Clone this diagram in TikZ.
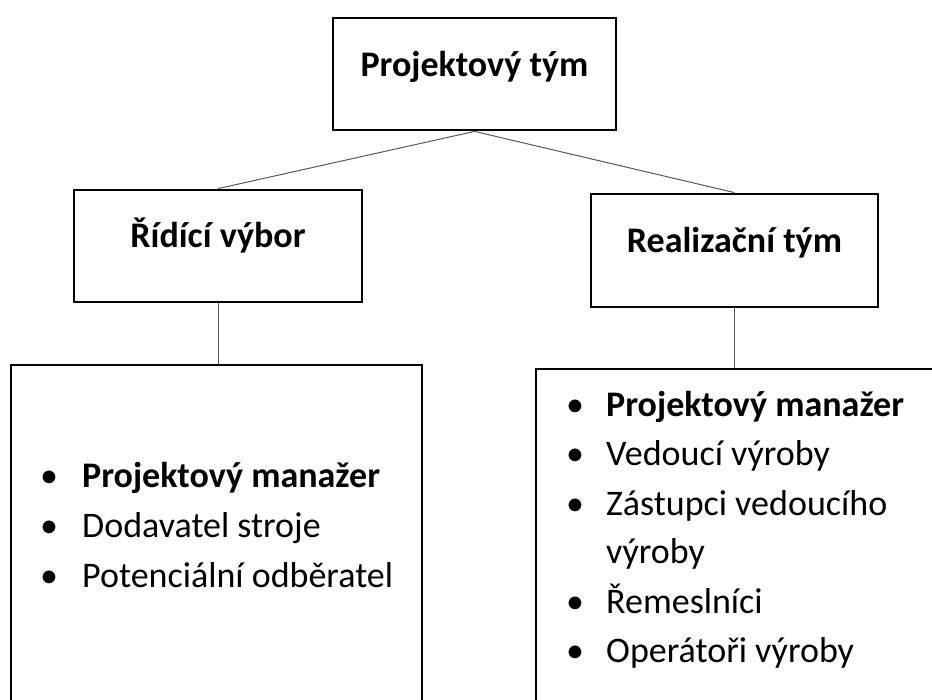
\documentclass[tikz,border=0pt]{standalone}
\usepackage{fontspec}
\setmainfont{Carlito}
\begin{document}
\begin{tikzpicture}[x=1pt,y=-1pt,
  box/.style={draw=black,line width=2.8pt,fill=white,inner sep=0pt},
  conn/.style={draw=black!65,line width=1pt},
  title/.style={anchor=base,inner sep=0pt,font=\fontsize{36}{43}\selectfont\bfseries},
  item/.style={anchor=base west,inner sep=0pt,font=\fontsize{36}{43}\selectfont},
  bul/.style={anchor=base,inner sep=0pt,font=\fontsize{36}{43}\selectfont}]
\useasboundingbox (0,0) rectangle (932,700);
\clip (0,0) rectangle (932,700);
\fill[white] (0,0) rectangle (932,700);
% boxes
\node[box,minimum width=283pt,minimum height=112pt] (top) at (474.5,74) {};
\node[box,minimum width=288pt,minimum height=112pt] (left) at (218,246) {};
\node[box,minimum width=287pt,minimum height=113pt] (right) at (734.5,250.5) {};
\node[box,minimum width=411pt,minimum height=400pt] (bl) at (216.5,565) {};
\node[box,minimum width=424pt,minimum height=400pt] (br) at (748,569) {};
% connectors
\draw[conn] (top.south) -- (left.north);
\draw[conn] (top.south) -- (right.north);
\draw[conn] (left.south) -- (left.south |- bl.north);
\draw[conn] (right.south) -- (right.south |- br.north);
% titles
\node[title] (ttop) at (474.5,77) {Projektový tým};
\node[title] (tleft) at (218,248) {Řídící výbor};
\node[title] (tright) at (734.5,253) {Realizační tým};
% left list
\node[bul] (lb1) at (49,487) {•};
\node[item,font=\fontsize{36}{43}\selectfont\bfseries] (li1) at (82,487) {Projektový manažer};
\node[bul] (lb2) at (49,537) {•};
\node[item] (li2) at (82,537) {Dodavatel stroje};
\node[bul] (lb3) at (49,587) {•};
\node[item] (li3) at (82,587) {Potenciální odběratel};
% right list
\node[bul] (rb1) at (575,417) {•};
\node[item,font=\fontsize{36}{43}\selectfont\bfseries] (ri1) at (606,417) {Projektový manažer};
\node[bul] (rb2) at (575,466) {•};
\node[item] (ri2) at (606,466) {Vedoucí výroby};
\node[bul] (rb3) at (575,515) {•};
\node[item] (ri3) at (606,515) {Zástupci vedoucího};
\node[item] (ri3b) at (606,563) {výroby};
\node[bul] (rb4) at (575,613) {•};
\node[item] (ri4) at (606,613) {Řemeslníci};
\node[bul] (rb5) at (575,662) {•};
\node[item] (ri5) at (606,662) {Operátoři výroby};
\end{tikzpicture}
\end{document}
